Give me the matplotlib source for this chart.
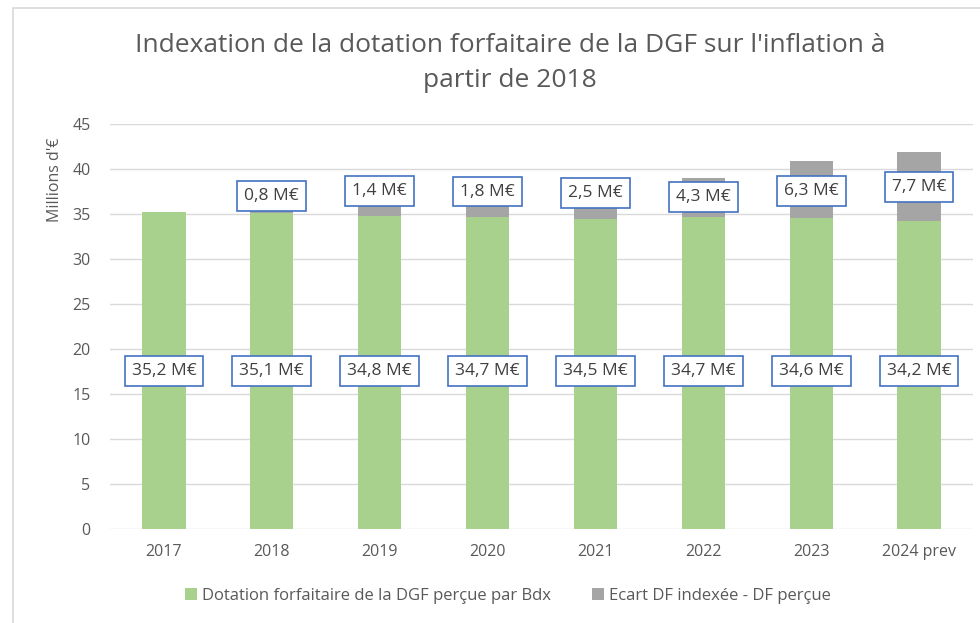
import numpy as np
import matplotlib
matplotlib.use('Agg')
import matplotlib.pyplot as plt
from matplotlib.patches import Rectangle

years = ['2017', '2018', '2019', '2020', '2021', '2022', '2023', '2024 prev']
dotation = [35.2, 35.1, 34.8, 34.7, 34.5, 34.7, 34.6, 34.2]
ecart = [0.0, 0.8, 1.4, 1.8, 2.5, 4.3, 6.3, 7.7]

# y position of the data labels (as in the Excel source)
lbl_bottom_y = 17.6
lbl_top_y = [None, 37.0, 37.6, 37.5, 37.3, 36.9, 37.6, 38.0]

plt.rcParams['font.family'] = ['Open Sans', 'DejaVu Sans']

green = '#a9d18e'
grey = '#a5a5a5'
txt = '#595959'

fig = plt.figure(figsize=(9.8, 6.23), dpi=100)
ax = fig.add_axes([110 / 980, 1 - 529 / 623, 863 / 980, 405 / 623])

x = np.arange(len(years))
ax.bar(x, dotation, width=0.4, color=green, zorder=2,
       label='Dotation forfaitaire de la DGF perçue par Bdx')
ax.bar(x, ecart, width=0.4, bottom=dotation, color=grey, zorder=2,
       label='Ecart DF indexée - DF perçue')

box = dict(boxstyle='square,pad=0.4', fc='white', ec='#4472c4', lw=1.2)
for i in range(len(years)):
    ax.text(x[i], lbl_bottom_y, f'{dotation[i]:.1f} M€'.replace('.', ','),
            ha='center', va='center', fontsize=12.5, color='#404040', bbox=box, zorder=3)
    if ecart[i] > 0:
        ax.text(x[i], lbl_top_y[i], f'{ecart[i]:.1f} M€'.replace('.', ','),
                ha='center', va='center', fontsize=12.5, color='#404040', bbox=box, zorder=3)

ax.set_xlim(-0.5, len(years) - 0.5)
ax.set_ylim(0, 45)
ax.set_yticks(range(0, 50, 5))
ax.set_xticks(x)
ax.set_xticklabels(years)
ax.grid(axis='y', color='#d9d9d9', lw=1, zorder=0)
for s in ax.spines.values():
    s.set_visible(False)
ax.tick_params(length=0, colors=txt, labelsize=11.5, pad=11)
ax.tick_params(axis='y', pad=14)

fig.text(55 / 980, 1 - 180 / 623, "Millions d'€", rotation=90, ha='center', va='center',
         fontsize=11.5, color=txt)
fig.text(510 / 980, 1 - 63 / 623, "Indexation de la dotation forfaitaire de la DGF sur l'inflation à\npartir de 2018",
         ha='center', va='center', fontsize=19, color=txt, linespacing=1.55)

leg = fig.legend(loc='center', bbox_to_anchor=(508 / 980, 1 - 596 / 623), ncol=2, frameon=False,
                 fontsize=12, handlelength=0.7, handleheight=0.7, handletextpad=0.3,
                 columnspacing=2.5, labelcolor=txt)

fig.patches.append(Rectangle((13 / 980, -0.01), 1.0, 1 - 8 / 623 + 0.01, transform=fig.transFigure,
                             fill=False, ec='#d9d9d9', lw=1.2))

fig.savefig('out.png', dpi=100)
